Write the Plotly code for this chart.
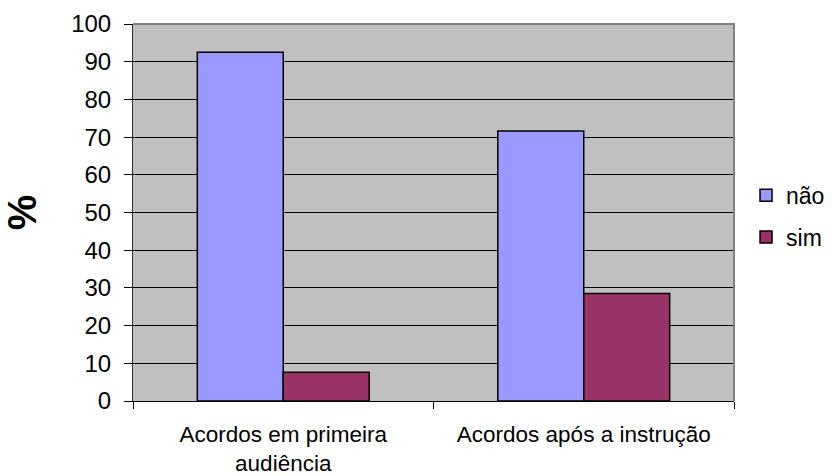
import plotly.graph_objects as go

categories = ["Acordos em primeira<br>audiência", "Acordos após a instrução"]
nao_values = [92.5, 71.6]
sim_values = [7.6, 28.5]
y_ticks = list(range(0, 101, 10))

FONT = "Liberation Sans, Arial, sans-serif"

fig = go.Figure()
fig.add_trace(go.Bar(
    x=categories, y=nao_values, name="não",
    marker=dict(color="#9999FF", line=dict(color="black", width=1.5)),
    legendgroup="a",
))
fig.add_trace(go.Bar(
    x=categories, y=sim_values, name="sim",
    marker=dict(color="#993366", line=dict(color="black", width=1.5)),
    legendgroup="b",
))

fig.update_layout(
    width=832, height=476,
    margin=dict(l=133, r=98, t=24, b=75, autoexpand=False),
    paper_bgcolor="white",
    plot_bgcolor="#C0C0C0",
    barmode="group",
    bargap=0.428,
    bargroupgap=0,
    font=dict(family=FONT, color="black"),
    showlegend=True,
    legend=dict(
        x=1.02, xanchor="left", y=0.49, yanchor="middle",
        font=dict(size=23, family=FONT, color="black"),
        traceorder="grouped", tracegroupgap=9,
        bgcolor="rgba(0,0,0,0)",
    ),
    xaxis=dict(
        type="category",
        tickson="boundaries",
        ticks="outside", ticklen=7, tickcolor="black", tickwidth=1,
        showline=True, linecolor="black", linewidth=1,
        tickfont=dict(size=22.5, family=FONT, color="black"),
        showgrid=False,
        ticklabelstandoff=13,
    ),
    yaxis=dict(
        range=[0, 100],
        tickvals=y_ticks,
        ticks="outside", ticklen=8, tickcolor="black", tickwidth=1,
        showline=True, linecolor="#303030", linewidth=1,
        showgrid=True, gridcolor="black", gridwidth=1,
        zeroline=False,
        tickfont=dict(size=24, family=FONT, color="black"),
        ticklabelstandoff=8,
        title=dict(text="<b>%</b>", font=dict(size=40, family=FONT, color="black"), standoff=22),
    ),
    shapes=[dict(
        type="path", xref="paper", yref="paper",
        path="M 0,1 L 1,1 L 1,0",
        line=dict(color="#808080", width=2),
        layer="above",
    )],
)

fig.write_html("out.html")
